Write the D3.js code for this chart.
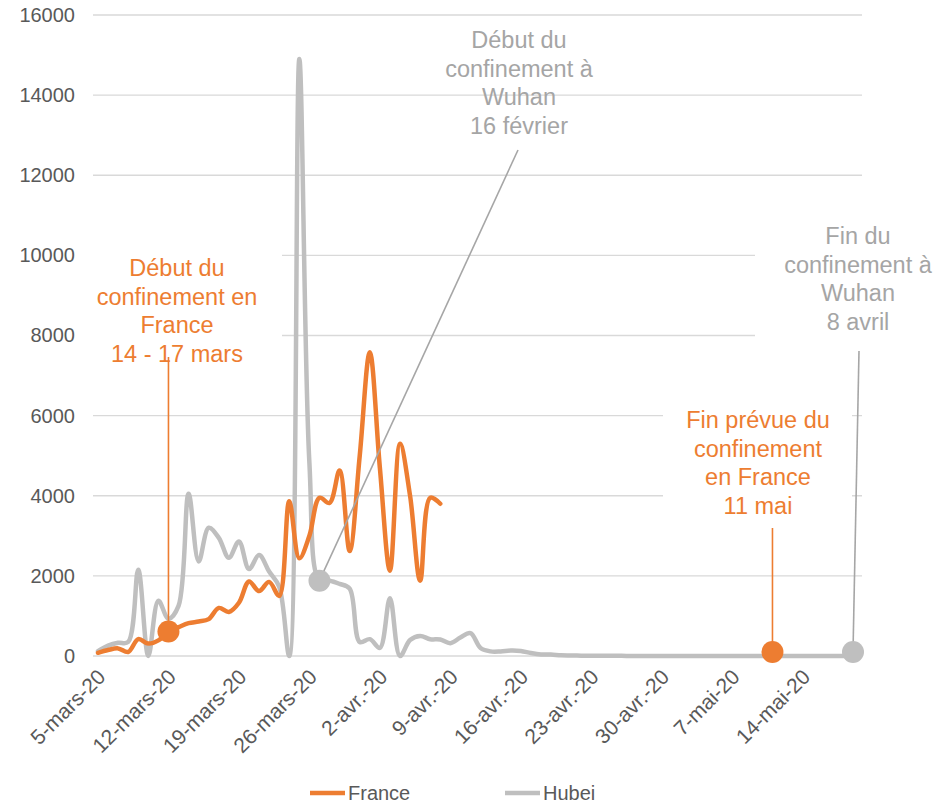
<!DOCTYPE html>
<html>
<head>
<meta charset="utf-8">
<script src="https://cdn.jsdelivr.net/npm/d3@7"></script>
<style>
  body { margin: 0; background: #fff; }
  svg { display: block; font-family: "Liberation Sans", Arial, sans-serif; }
</style>
</head>
<body>
<div id="chart"></div>
<script>
// ---- DATA ----
// one value per day, starting 5-mars-20
const franceValues = [80, 150, 190, 100, 420, 310, 390, 610, 720, 820, 860, 920, 1200, 1100, 1330,
  1860, 1620, 1850, 1500, 3860, 2440, 3000, 3950, 3820, 4630, 2620, 5000, 7580, 4700, 2130,
  5300, 4000, 1880, 3950, 3800]

const hubeiValues = [120, 260, 330, 350, 2150, 0, 1380, 930, 1250, 4050, 2360, 3200, 2950, 2450, 2860,
  2170, 2520, 2110, 1730, 0, 14900, 4820, 1880, 1880, 1800, 1680, 350, 420, 200, 1440,
  0, 400, 500, 420, 410, 320, 460, 570, 200, 115, 115, 135, 125, 75, 40,
  35, 17, 13, 8, 5, 4, 4, 4, 1, 1, 0, 0, 0, 0, 0,
  0, 0, 0, 0, 0, 0, 0, 0, 0, 0, 0, 0, 0, 0, 0, 0]

const xTickDays = [0, 7, 14, 21, 28, 35, 42, 49, 56, 63, 70]
const xTickLabels = ["5-mars-20", "12-mars-20", "19-mars-20", "26-mars-20", "2-avr.-20", "9-avr.-20",
  "16-avr.-20", "23-avr.-20", "30-avr.-20", "7-mai-20", "14-mai-20"]
const yTicks = [0, 2000, 4000, 6000, 8000, 10000, 12000, 14000, 16000]

const seriesNames = ["France", "Hubei"]

// annotation markers: day index + value
const annotDays = [7, 22, 67, 75]
const annotValues = [franceValues[7], hubeiValues[22], 100, 100]

// ---- STYLE / LAYOUT ----
const ORANGE = "#ED7D31"
const GREY = "#BFBFBF"
const GREY_TEXT = "#A5A5A5"
const AXIS_TEXT = "#595959"

const WIDTH = 948, HEIGHT = 804
const plotLeft = 93, plotRight = 862

const svg = d3.select("#chart").append("svg")
    .attr("width", WIDTH)
    .attr("height", HEIGHT)

const x = d3.scaleLinear().domain([0, 75]).range([98, 853])
const y = d3.scaleLinear().domain([0, 16000]).range([656, 15])

// gridlines
svg.append("g").attr("class", "grid")
    .selectAll("line")
    .data(yTicks)
    .join("line")
    .attr("x1", plotLeft)
    .attr("x2", plotRight)
    .attr("y1", d => y(d))
    .attr("y2", d => y(d))
    .attr("stroke", "#D9D9D9")
    .attr("stroke-width", 1.3)

// y axis labels
const yAxis = svg.append("g")
    .attr("transform", `translate(${plotLeft},0)`)
    .call(d3.axisLeft(y).tickValues(yTicks).tickSize(0).tickPadding(18).tickFormat(d => d))
yAxis.select(".domain").remove()
yAxis.selectAll("text")
    .attr("fill", AXIS_TEXT)
    .style("font-size", "20px")
    .style("font-family", "Liberation Sans, Arial, sans-serif")

// x axis labels
const xAxis = svg.append("g")
    .attr("transform", `translate(0,${y(0)})`)
    .call(d3.axisBottom(x).tickValues(xTickDays).tickSize(0).tickFormat((d, i) => xTickLabels[i]))
xAxis.select(".domain").remove()
xAxis.selectAll("text")
    .attr("fill", AXIS_TEXT)
    .style("font-size", "21px")
    .style("font-family", "Liberation Sans, Arial, sans-serif")
    .attr("text-anchor", "end")
    .attr("dy", "0.35em")
    .attr("transform", "translate(1,15) rotate(-45)")

// white boxes behind some annotation texts (hide gridlines)
const boxes = [
    [plotLeft, 240, 282, 372],
    [755, 214, 870, 346],
    [663, 400, 852, 522]
]
svg.append("g").selectAll("rect")
    .data(boxes)
    .join("rect")
    .attr("x", d => d[0])
    .attr("y", d => d[1])
    .attr("width", d => d[2] - d[0])
    .attr("height", d => d[3] - d[1])
    .attr("fill", "#fff")

// series
const line = d3.line()
    .x((d, i) => x(i))
    .y(d => y(d))
    .curve(d3.curveCatmullRom.alpha(0.5))

svg.append("path")
    .datum(hubeiValues)
    .attr("d", line)
    .attr("fill", "none")
    .attr("stroke", GREY)
    .attr("stroke-width", 4.5)
    .attr("stroke-linejoin", "round")
    .attr("stroke-linecap", "round")

svg.append("path")
    .datum(franceValues)
    .attr("d", line)
    .attr("fill", "none")
    .attr("stroke", ORANGE)
    .attr("stroke-width", 4.5)
    .attr("stroke-linejoin", "round")
    .attr("stroke-linecap", "round")

// annotations
const annotations = [
    {lines: ["Début du", "confinement en", "France", "14 - 17 mars"], color: ORANGE, dotColor: ORANGE,
        tx: 177, ty: 268, lx: null, ly: 357},
    {lines: ["Début du", "confinement à", "Wuhan", "16 février"], color: GREY_TEXT, dotColor: GREY,
        tx: 519, ty: 40, lx: 518, ly: 150},
    {lines: ["Fin prévue du", "confinement", "en France", "11 mai"], color: ORANGE, dotColor: ORANGE,
        tx: 758, ty: 420, lx: null, ly: 528},
    {lines: ["Fin du", "confinement à", "Wuhan", "8 avril"], color: GREY_TEXT, dotColor: GREY,
        tx: 858, ty: 236, lx: 859, ly: 351}
]

const annG = svg.append("g").attr("class", "annotations")

annotations.forEach((a, k) => {
    const dx = x(annotDays[k])
    const dy = y(annotValues[k])
    annG.append("line")
        .attr("x1", a.lx === null ? dx : a.lx)
        .attr("y1", a.ly)
        .attr("x2", dx)
        .attr("y2", dy)
        .attr("stroke", a.color === ORANGE ? ORANGE : "#A6A6A6")
        .attr("stroke-width", 1.6)
    annG.append("circle")
        .attr("cx", dx)
        .attr("cy", dy)
        .attr("r", 11)
        .attr("fill", a.dotColor)
    const t = annG.append("text")
        .attr("x", a.tx)
        .attr("y", a.ty)
        .attr("fill", a.color)
        .attr("text-anchor", "middle")
        .style("font-size", "23.5px")
    a.lines.forEach((s, j) => {
        t.append("tspan")
            .attr("x", a.tx)
            .attr("y", a.ty + j * 28.5)
            .attr("dy", "0.35em")
            .text(s)
    })
})

// legend
const legend = svg.append("g").attr("class", "legend")
const legendX = [310, 505]
seriesNames.forEach((name, i) => {
    const g = legend.append("g").attr("transform", `translate(${legendX[i]},793)`)
    g.append("line")
        .attr("x1", 0).attr("x2", 35)
        .attr("y1", 0).attr("y2", 0)
        .attr("stroke", i === 0 ? ORANGE : GREY)
        .attr("stroke-width", 4.5)
    g.append("text")
        .attr("x", 38)
        .attr("dy", "0.35em")
        .attr("fill", AXIS_TEXT)
        .style("font-size", "20px")
        .text(name)
})
</script>
</body>
</html>
